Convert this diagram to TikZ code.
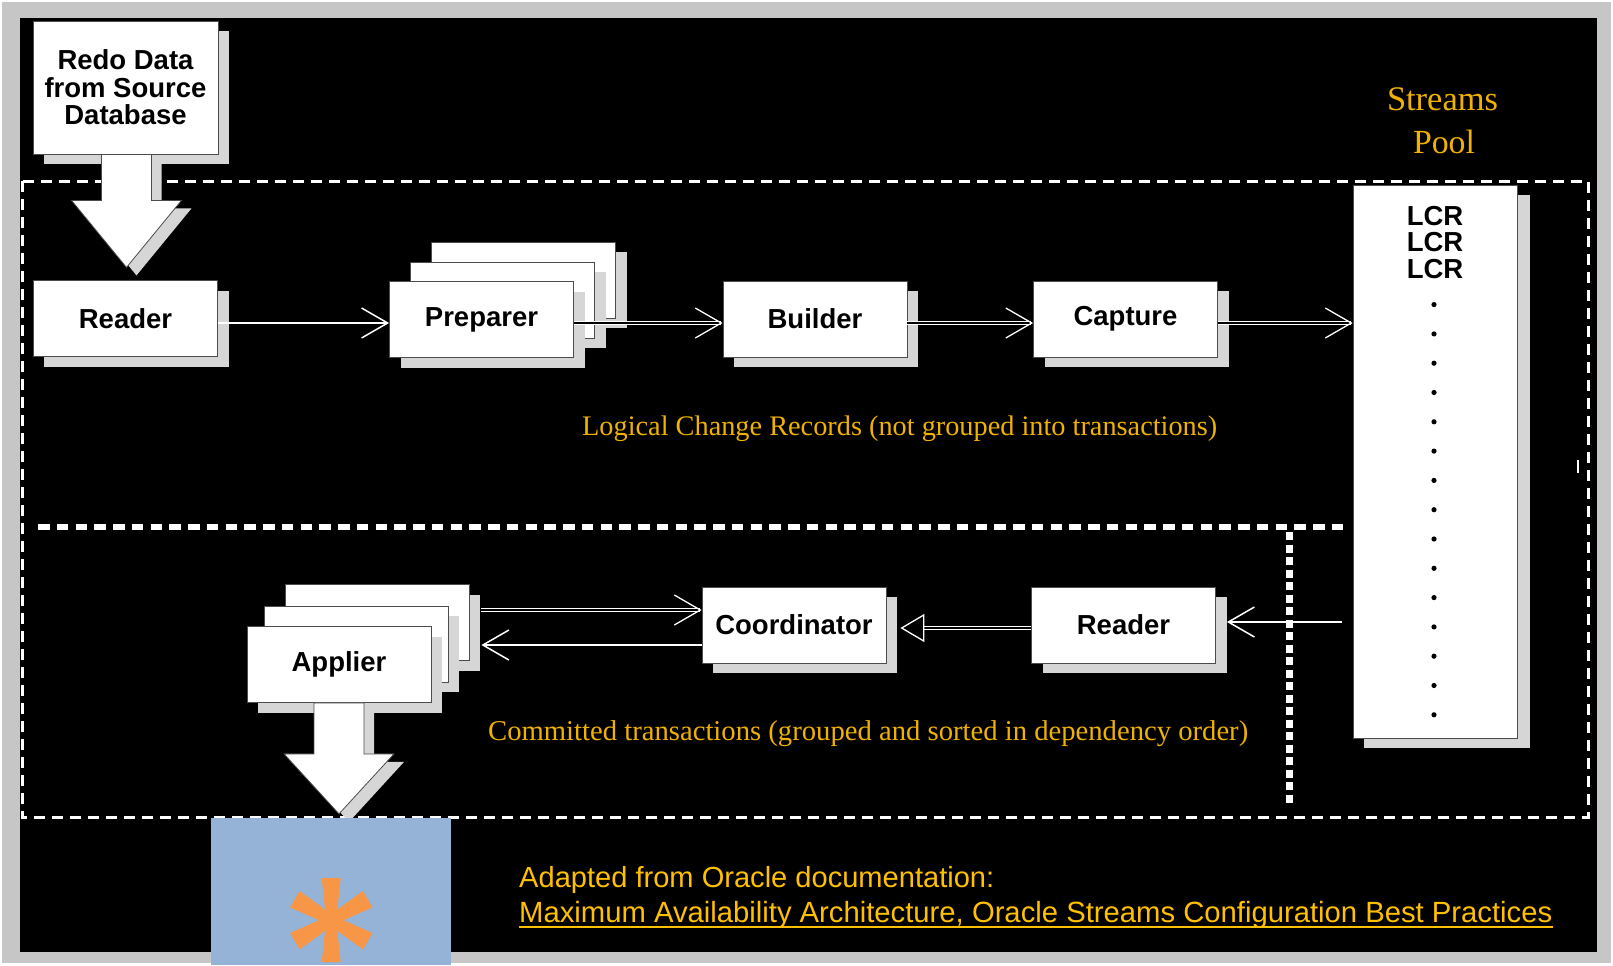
\documentclass[tikz,border=0pt]{standalone}
\usepackage{fontspec}
\usepackage{graphicx}
\usetikzlibrary{arrows.meta,calc,shadows}

\newfontfamily\helv{Liberation Sans}
\newfontfamily\capserif{Liberation Serif}

\definecolor{shgray}{RGB}{214,214,214}
\definecolor{framegray}{RGB}{198,198,198}
\definecolor{gold}{RGB}{240,178,0}
\definecolor{footgold}{RGB}{255,192,0}
\definecolor{skyb}{RGB}{149,179,215}
\definecolor{orng}{RGB}{247,150,70}

\newcommand\boxfont{\helv\bfseries\fontsize{27.5bp}{27.5bp}\selectfont}

% white block arrow with a grey drop shadow: start point, shaft length, head length
\newcommand\blockarrow[3]{%
  \fill[shgray] ($(#1)+(10,8)$) ++(-25,0) -- ++(0,#2) -- ++(-30,0) -- ++(55,#3) -- ++(55,-#3) -- ++(-30,0) -- ++(0,-#2) -- cycle;
  \filldraw[fill=white, draw=black!70, line width=0.8bp] (#1) ++(-25,0) -- ++(0,#2) -- ++(-30,0) -- ++(55,#3) -- ++(55,-#3) -- ++(-30,0) -- ++(0,-#2) -- cycle;}

\tikzset{
  box/.style={rectangle, fill=white, draw=black!70, line width=0.8bp,
    minimum width=184bp, minimum height=76bp, inner sep=0pt, font=\boxfont,
    drop shadow={shadow xshift=11bp, shadow yshift=-10bp, fill=shgray, opacity=1}},
  outerdash/.style={white, line width=3bp, dash pattern=on 11bp off 7bp},
  middash/.style={white, line width=6bp, dash pattern=on 11.5bp off 7.25bp},
  vdash/.style={white, line width=7bp, dash pattern=on 8bp off 4.5bp},
  sline/.style={draw=white, line width=1.5bp},
  dline/.style={draw=white, line width=1.3bp, double=black, double distance=1.8bp},
  barb/.style={-{Straight Barb[length=26bp,width=30bp]}},
  tri/.style={-{Triangle[open,length=24bp,width=28bp]}},
  goldtext/.style={text=gold, inner sep=0pt, font=\capserif},
  foottext/.style={text=footgold, inner sep=0pt, anchor=base west, font=\helv}
}

\begin{document}
\begin{tikzpicture}[x=1bp,y=-1bp]
\useasboundingbox (0,0) rectangle (1613,965);

% frame and slide background
\fill[framegray] (0,0) rectangle (1613,965);
\draw[white, line width=2bp] (1,1) rectangle (1612,964);
\fill[black] (20,18) rectangle (1597,952);

% region borders
\draw[outerdash] (22,181) rectangle (1588,817);
\draw[middash] (38,527) -- (1343,527);
\draw[vdash] (1289,532) -- (1289,807);
\draw[white, line width=1.2bp] (1578,460) -- (1578,473);

% capture side
\node[box, minimum width=185bp, minimum height=133bp, align=center] (redo) at (125.5,87.5) {Redo Data\\from Source\\Database};
\node[box] (rdr) at (125.5,318.5) {Reader};
\node[box] (prepC) at (523.5,280) {};
\node[box] (prepB) at (502.5,300) {};
\node[box] (prepA) at (481.5,319.5) {Preparer};
\node[box] (bld) at (815,319) {Builder};
\node[box] (cap) at (1125.5,319) {Capture};

% streams pool
\node[box, minimum width=164bp, minimum height=553bp,
  drop shadow={shadow xshift=13bp, shadow yshift=-10bp, fill=shgray, opacity=1}] (lcr) at (1435,461.5) {};
\node[anchor=north, inner sep=0pt, align=center, font=\helv\bfseries\fontsize{27.5bp}{26.5bp}\selectfont] (lcrtext) at ($(lcr.north)+(0,21)$) {LCR\\LCR\\LCR};
\foreach \i in {0,...,14}
  \fill[black] ($(lcr.north)+(-1,120+29.3*\i)$) circle (2.6bp);

% apply side
\node[box] (appC) at (377,622.5) {};
\node[box] (appB) at (356,644) {};
\node[box] (appA) at (339,664.5) {Applier};
\node[box] (coord) at (794,625) {Coordinator};
\node[box] (rdr2) at (1123.5,625) {Reader};

% block arrows
\blockarrow{$(redo.south)+(1,0)$}{46}{67}
\blockarrow{appA.south}{51}{60}

% connectors
\draw[sline, barb] ($(rdr.east)+(0,4.5)$) -- ($(rdr.east -| prepA.west)+(0,4.5)$);
\draw[dline, barb] ($(prepA.east)+(0,3.5)$) -- ($(prepA.east -| bld.west)+(0,3.5)$);
\draw[dline, barb] ($(bld.east)+(0,4)$) -- ($(bld.east -| cap.west)+(0,4)$);
\draw[dline, barb] ($(cap.east)+(0,4)$) -- ($(cap.east -| lcr.west)+(0,4)$);
\draw[dline, barb] ($(appC.east)+(12,-12.5)$) -- ($(appC.east -| coord.west)+(0,-12.5)$);
\draw[sline, barb] ($(coord.west)+(0,20)$) -- ($(coord.west -| appC.east)+(12,20)$);
\draw[dline, tri] ($(rdr2.west)+(0,3)$) -- ($(rdr2.west -| coord.east)+(14,3)$);
\draw[sline, barb] ($(rdr2.east -| lcr.west)+(-11,-3)$) -- ($(rdr2.east)+(11,-3)$);

% captions
\node[goldtext, anchor=base] (streams) at (1442.5,110) {\resizebox{111bp}{!}{Streams}};
\node[goldtext, anchor=base] (pool) at (1444,153) {\resizebox{62bp}{!}{Pool}};
\node[goldtext, anchor=base west] (lcrnote) at (582,435) {\resizebox{635bp}{!}{Logical Change Records (not grouped into transactions)}};
\node[goldtext, anchor=base west] (txnote) at (488,740) {\resizebox{760bp}{!}{Committed transactions (grouped and sorted in dependency order)}};

% source reference
\node[foottext] (src1) at (519,887) {\resizebox{475bp}{!}{Adapted from Oracle documentation:}};
\node[foottext] (src2) at (519,922) {\resizebox{1033bp}{!}{Maximum Availability Architecture, Oracle Streams Configuration Best Practices}};
\draw[footgold, line width=2.6bp] ($(src2.base west)+(0,5)$) -- ($(src2.base east)+(0,5)$);

% badge with asterisk
\node[fill=skyb, minimum width=240bp, minimum height=147bp, inner sep=0pt, anchor=north west] (badge) at (211,818) {};
\foreach \a in {90,30,-30,-90,150,210}
  \fill[orng, shift={($(badge.center)+(0,28.5)$)}, rotate=\a] (0,-5) -- (42,-9.5) -- (42,9.5) -- (0,5) -- cycle;
\end{tikzpicture}
\end{document}
